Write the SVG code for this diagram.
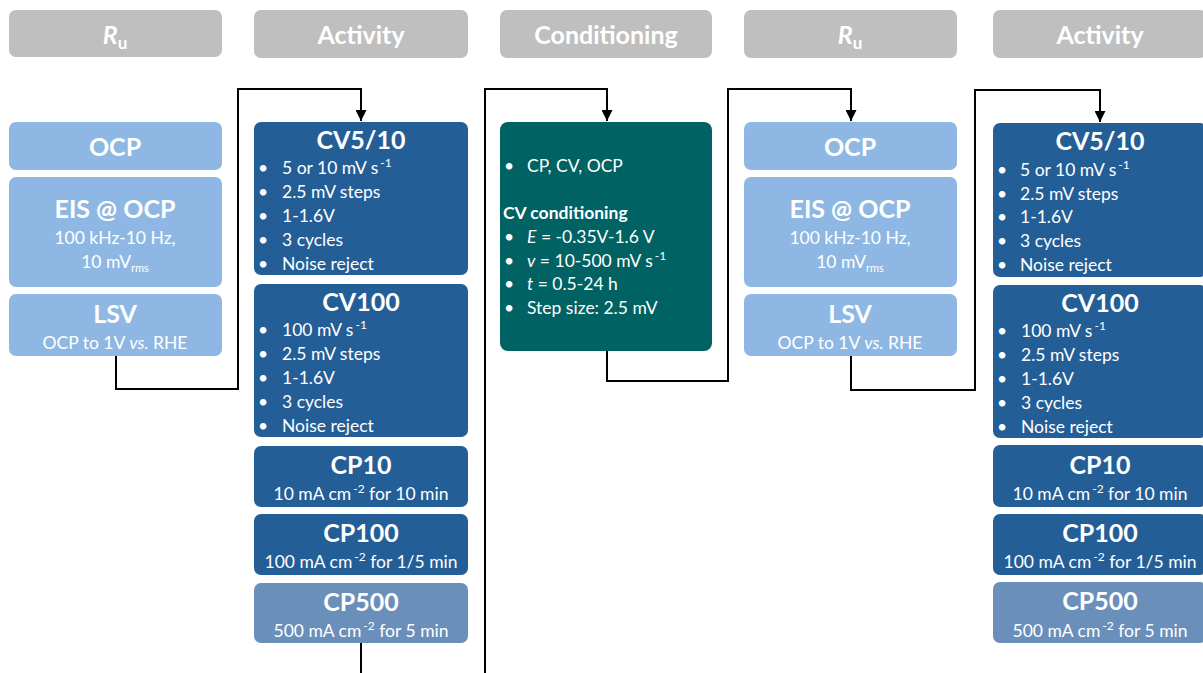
<svg xmlns="http://www.w3.org/2000/svg" width="1203" height="673" viewBox="0 0 1203 673">
  <defs>
    <marker id="arrow" viewBox="0 0 10 10" refX="10" refY="5" markerWidth="11" markerHeight="11" markerUnits="userSpaceOnUse" orient="auto">
      <path d="M0,0 L10,5 L0,10 z" fill="#000"/>
    </marker>
    <style>
      text { font-family: Lato, "Open Sans", "Liberation Sans", sans-serif; fill: #fff; }
      .hdr { fill: #bfbfbf; }
      .lb { fill: #8eb8e3; }
      .db { fill: #245e96; }
      .mb { fill: #6a8fba; }
      .tl { fill: #006262; }
      .ht { font-size: 25px; font-weight: bold; text-anchor: middle; }
      .tt { font-size: 25px; font-weight: bold; text-anchor: middle; }
      .st { font-size: 17.5px; text-anchor: middle; }
      .bl { font-size: 17.5px; }
      .sup { font-size: 12px; }
      .wire { fill: none; stroke: #000; stroke-width: 2; }
    </style>
  </defs>

  <!-- column headers -->
  <g id="hdr-ru-1"><rect class="hdr" x="9" y="10" width="213" height="47" rx="7"/>
    <text class="ht" x="115" y="44"><tspan font-style="italic">R</tspan><tspan font-size="17" dy="5">u</tspan></text></g>
  <g id="hdr-activity-1"><rect class="hdr" x="254" y="10" width="214" height="48" rx="7"/>
    <text class="ht" x="361" y="44">Activity</text></g>
  <g id="hdr-conditioning"><rect class="hdr" x="500" y="10" width="212" height="48" rx="7"/>
    <text class="ht" x="606" y="44">Conditioning</text></g>
  <g id="hdr-ru-2"><rect class="hdr" x="744" y="10" width="213" height="48" rx="7"/>
    <text class="ht" x="850" y="44"><tspan font-style="italic">R</tspan><tspan font-size="17" dy="5">u</tspan></text></g>
  <g id="hdr-activity-2"><rect class="hdr" x="993" y="10" width="214" height="48" rx="7"/>
    <text class="ht" x="1100" y="44">Activity</text></g>

  <!-- Ru block 1 -->
  <g id="ocp-1"><rect class="lb" x="9" y="122" width="213" height="48" rx="7"/>
    <text class="tt" x="115" y="156">OCP</text></g>
  <g id="eis-1"><rect class="lb" x="9" y="177" width="213" height="110" rx="7"/>
    <text class="tt" x="115" y="218">EIS @ OCP</text>
    <text class="st" x="115" y="244">100 kHz-10 Hz,</text>
    <text class="st" x="115" y="268">10 mV<tspan font-size="11" dy="4">rms</tspan></text></g>
  <g id="lsv-1"><rect class="lb" x="9" y="294" width="213" height="62" rx="7"/>
    <text class="tt" x="115" y="323">LSV</text>
    <text class="st" x="115" y="349">OCP to 1V <tspan font-style="italic">vs.</tspan> RHE</text></g>

  <!-- Activity block 1 -->
  <g id="cv510-1"><rect class="db" x="254" y="122" width="214" height="153" rx="7"/>
    <text class="tt" x="361" y="149">CV5/10</text>
    <g class="bl">
      <text x="258" y="174">•</text><text x="282" y="174">5 or 10 mV s<tspan class="sup" dx="2" dy="-7">-1</tspan></text>
      <text x="258" y="198">•</text><text x="282" y="198">2.5 mV steps</text>
      <text x="258" y="222">•</text><text x="282" y="222">1-1.6V</text>
      <text x="258" y="246">•</text><text x="282" y="246">3 cycles</text>
      <text x="258" y="270">•</text><text x="282" y="270">Noise reject</text>
    </g></g>
  <g id="cv100-1"><rect class="db" x="254" y="284" width="214" height="153" rx="7"/>
    <text class="tt" x="361" y="311">CV100</text>
    <g class="bl">
      <text x="258" y="336">•</text><text x="282" y="336">100 mV s<tspan class="sup" dx="2" dy="-7">-1</tspan></text>
      <text x="258" y="360">•</text><text x="282" y="360">2.5 mV steps</text>
      <text x="258" y="384">•</text><text x="282" y="384">1-1.6V</text>
      <text x="258" y="408">•</text><text x="282" y="408">3 cycles</text>
      <text x="258" y="432">•</text><text x="282" y="432">Noise reject</text>
    </g></g>
  <g id="cp10-1"><rect class="db" x="254" y="446" width="214" height="61" rx="7"/>
    <text class="tt" x="361" y="474">CP10</text>
    <text class="st" x="361" y="500">10 mA cm<tspan class="sup" dx="2" dy="-7">-2</tspan><tspan dy="7"> for 10 min</tspan></text></g>
  <g id="cp100-1"><rect class="db" x="254" y="514" width="214" height="61" rx="7"/>
    <text class="tt" x="361" y="542">CP100</text>
    <text class="st" x="361" y="568">100 mA cm<tspan class="sup" dx="2" dy="-7">-2</tspan><tspan dy="7"> for 1/5 min</tspan></text></g>
  <g id="cp500-1"><rect class="mb" x="254" y="583" width="214" height="60" rx="7"/>
    <text class="tt" x="361" y="611">CP500</text>
    <text class="st" x="361" y="637">500 mA cm<tspan class="sup" dx="2" dy="-7">-2</tspan><tspan dy="7"> for 5 min</tspan></text></g>

  <!-- Conditioning block -->
  <g id="conditioning"><rect class="tl" x="500" y="122" width="212" height="229" rx="8"/>
    <g class="bl">
      <text x="504" y="172">•</text><text x="527" y="172">CP, CV, OCP</text>
      <text x="503" y="219" font-weight="bold">CV conditioning</text>
      <text x="504" y="243">•</text><text x="527" y="243"><tspan font-style="italic">E</tspan> = -0.35V-1.6 V</text>
      <text x="504" y="267">•</text><text x="527" y="267"><tspan font-style="italic">v</tspan> = 10-500 mV s<tspan class="sup" dx="2" dy="-7">-1</tspan></text>
      <text x="504" y="290">•</text><text x="527" y="290"><tspan font-style="italic">t</tspan> = 0.5-24 h</text>
      <text x="504" y="314">•</text><text x="527" y="314">Step size: 2.5 mV</text>
    </g></g>

  <!-- Ru block 2 -->
  <g id="ocp-2"><rect class="lb" x="744" y="122" width="213" height="48" rx="7"/>
    <text class="tt" x="850" y="156">OCP</text></g>
  <g id="eis-2"><rect class="lb" x="744" y="177" width="213" height="110" rx="7"/>
    <text class="tt" x="850" y="218">EIS @ OCP</text>
    <text class="st" x="850" y="244">100 kHz-10 Hz,</text>
    <text class="st" x="850" y="268">10 mV<tspan font-size="11" dy="4">rms</tspan></text></g>
  <g id="lsv-2"><rect class="lb" x="744" y="294" width="213" height="62" rx="7"/>
    <text class="tt" x="850" y="323">LSV</text>
    <text class="st" x="850" y="349">OCP to 1V <tspan font-style="italic">vs.</tspan> RHE</text></g>

  <!-- Activity block 2 -->
  <g id="cv510-2"><rect class="db" x="993" y="123" width="214" height="154" rx="7"/>
    <text class="tt" x="1100" y="150">CV5/10</text>
    <g class="bl">
      <text x="997" y="176">•</text><text x="1020" y="176">5 or 10 mV s<tspan class="sup" dx="2" dy="-7">-1</tspan></text>
      <text x="997" y="200">•</text><text x="1020" y="200">2.5 mV steps</text>
      <text x="997" y="223">•</text><text x="1020" y="223">1-1.6V</text>
      <text x="997" y="247">•</text><text x="1020" y="247">3 cycles</text>
      <text x="997" y="271">•</text><text x="1020" y="271">Noise reject</text>
    </g></g>
  <g id="cv100-2"><rect class="db" x="993" y="285" width="214" height="153" rx="7"/>
    <text class="tt" x="1100" y="312">CV100</text>
    <g class="bl">
      <text x="997" y="337">•</text><text x="1021" y="337">100 mV s<tspan class="sup" dx="2" dy="-7">-1</tspan></text>
      <text x="997" y="361">•</text><text x="1021" y="361">2.5 mV steps</text>
      <text x="997" y="385">•</text><text x="1021" y="385">1-1.6V</text>
      <text x="997" y="409">•</text><text x="1021" y="409">3 cycles</text>
      <text x="997" y="433">•</text><text x="1021" y="433">Noise reject</text>
    </g></g>
  <g id="cp10-2"><rect class="db" x="993" y="445" width="214" height="62" rx="7"/>
    <text class="tt" x="1100" y="474">CP10</text>
    <text class="st" x="1100" y="500">10 mA cm<tspan class="sup" dx="2" dy="-7">-2</tspan><tspan dy="7"> for 10 min</tspan></text></g>
  <g id="cp100-2"><rect class="db" x="993" y="514" width="214" height="61" rx="7"/>
    <text class="tt" x="1100" y="542">CP100</text>
    <text class="st" x="1100" y="568">100 mA cm<tspan class="sup" dx="2" dy="-7">-2</tspan><tspan dy="7"> for 1/5 min</tspan></text></g>
  <g id="cp500-2"><rect class="mb" x="993" y="582" width="214" height="61" rx="7"/>
    <text class="tt" x="1100" y="610">CP500</text>
    <text class="st" x="1100" y="637">500 mA cm<tspan class="sup" dx="2" dy="-7">-2</tspan><tspan dy="7"> for 5 min</tspan></text></g>

  <!-- connectors -->
  <g id="connectors">
    <path class="wire" d="M116,356 V389 H238 V89 H361 V121" marker-end="url(#arrow)"/>
    <path class="wire" d="M361,643 V673"/>
    <path class="wire" d="M485,673 V89 H607 V121" marker-end="url(#arrow)"/>
    <path class="wire" d="M607,351 V381 H728 V89 H851 V121" marker-end="url(#arrow)"/>
    <path class="wire" d="M851,356 V390 H975 V90 H1100 V122" marker-end="url(#arrow)"/>
  </g>
</svg>
